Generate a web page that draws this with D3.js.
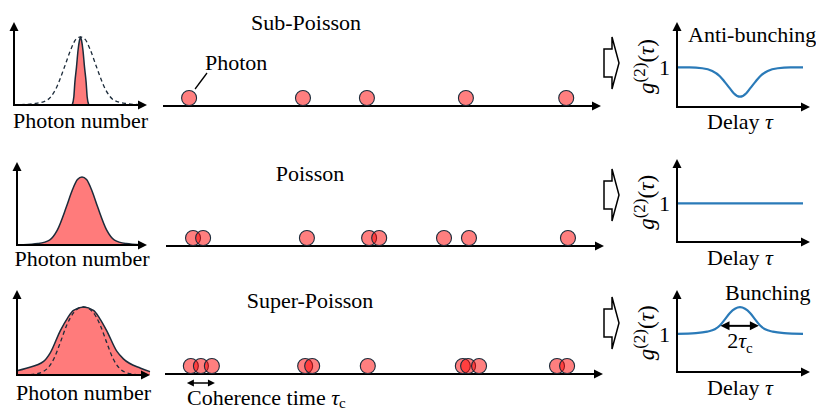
<!DOCTYPE html>
<html><head><meta charset="utf-8">
<script src="https://cdn.jsdelivr.net/npm/d3@7"></script>
</head>
<body style="margin:0">
<svg id="c" width="816" height="410"></svg>
<script>
// ---------- DATA ----------
const rowTitles = ["Sub-Poisson", "Poisson", "Super-Poisson"];
// photon-number distributions (n, probability-like height)
const poissonN = [1, 3.2, 5, 6.2, 7.6, 8.5, 9.3, 10, 10.7, 11.5, 12.4, 13.8, 15, 16.8, 19];
const poissonP = [0.004, 0.018, 0.06, 0.18, 0.46, 0.66, 0.79, 0.82, 0.79, 0.66, 0.46, 0.18, 0.06, 0.018, 0.004];
const subN = [8.75, 9.0, 9.15, 9.4, 9.63, 9.85, 10, 10.15, 10.37, 10.6, 10.85, 11.0, 11.25];
const subP = [0, 0.1, 0.27, 0.46, 0.66, 0.78, 0.82, 0.78, 0.66, 0.46, 0.27, 0.1, 0];
const superN = [0, 1.4, 4, 5, 6.5, 7.6, 8.5, 10, 11.5, 12.4, 13.5, 15, 16, 18.6, 20];
const superP = [0.05, 0.08, 0.16, 0.26, 0.52, 0.67, 0.76, 0.80, 0.76, 0.67, 0.52, 0.28, 0.19, 0.08, 0.04];
const refN = [2, 3.8, 5.6, 6.5, 7.5, 8.6, 10, 11.4, 12.5, 13.5, 14.4, 16.2, 18];
const refP = [0.004, 0.035, 0.2, 0.38, 0.59, 0.74, 0.80, 0.74, 0.59, 0.38, 0.2, 0.035, 0.004];
// photon arrival times
const subT = [5.5, 31.5, 46.1, 68.7, 91.6];
const poiT = [6.4, 8.7, 32.4, 46.6, 48.9, 63.7, 69.4, 92.0];
const supT = [5.9, 8.2, 10.7, 32.0, 33.6, 46.3, 68.0, 69.2, 71.7, 89.5, 91.8];
const coherence = [5.0, 11.4];
// g2 curves
const antiTau = [-5, -4, -3, -2.2, -1.6, -1.2, -0.8, -0.5, 0, 0.5, 0.8, 1.2, 1.6, 2.2, 3, 4, 5];
const antiG = [1, 1, 0.98, 0.91, 0.78, 0.63, 0.47, 0.35, 0.26, 0.35, 0.47, 0.63, 0.78, 0.91, 0.98, 1, 1];
const cohTau = [-5, 5];
const cohG = [1, 1];
const bunchTau = [-5, -3.5, -2.6, -2, -1.6, -1.2, -0.8, -0.4, 0, 0.4, 0.8, 1.2, 1.6, 2, 2.6, 3.5, 5];
const bunchG = [1.0, 1.02, 1.06, 1.12, 1.22, 1.38, 1.55, 1.66, 1.7, 1.66, 1.55, 1.38, 1.22, 1.12, 1.06, 1.02, 1.0];
const bunchWidth = [-1.55, 1.5];
const bunchWidthLevel = 1.21;
const g2Tick = [1];

// ---------- LAYOUT ----------
const svg = d3.select("#c");
const FS = 22, FSUB = 15;
const FONT = '"Liberation Serif"';
const red = "#ff7b7b", dark = "#1c2b3a", blue = "#2a7ab8";
const rows = [
  {hx0:14, hx1:147, hb:105, ht:22, ax0:163, ax1:601, ay:106, gb:107, gt:22, arr:63, title:[306,30], pn:128, dl:129},
  {hx0:17, hx1:147, hb:245, ht:162, ax0:166, ax1:604, ay:246, gb:242, gt:159, arr:195, title:[310,181], pn:266, dl:265},
  {hx0:17, hx1:150, hb:375, ht:290, ax0:165, ax1:603, ay:374, gb:372, gt:290, arr:323, title:[310,308], pn:400, dl:395}
];
const tScale = d3.scaleLinear().domain([0, 100]).range([165, 603]);
const tauScale = d3.scaleLinear().domain([-5, 5]).range([677, 803]);

function txt(g, size) {
  return g.append("text").style("font-family", FONT).attr("font-size", size || FS);
}
function head(g, x, y, dir, len, half) {
  len = len || 9; half = half || 4.5;
  let pts;
  if (dir === "r") pts = [[x, y], [x - len, y - half], [x - len, y + half]];
  else if (dir === "l") pts = [[x, y], [x + len, y - half], [x + len, y + half]];
  else pts = [[x, y], [x - half, y + len], [x + half, y + len]];
  g.append("path").attr("d", d3.line()(pts) + "Z").attr("fill", "#000");
}
function axes(g, x0, x1, yb, yt) {
  g.append("line").attr("x1", x0).attr("x2", x1 - 6).attr("y1", yb).attr("y2", yb).attr("stroke", "#000").attr("stroke-width", 2);
  g.append("line").attr("x1", x0).attr("x2", x0).attr("y1", yb + 1).attr("y2", yt + 6).attr("stroke", "#000").attr("stroke-width", 2);
  head(g, x1, yb, "r");
  head(g, x0, yt, "u");
}

const distFill = [[subN, subP], [poissonN, poissonP], [superN, superP]];
const distDash = [[poissonN, poissonP], null, [refN, refP]];
const photons = [subT, poiT, supT];
const g2Data = [[antiTau, antiG], [cohTau, cohG], [bunchTau, bunchG]];

rows.forEach((r, i) => {
  const g = svg.append("g");
  // --- photon number distribution
  const hx = d3.scaleLinear().domain([0, 20]).range([r.hx0, r.hx1]);
  const hy = d3.scaleLinear().domain([0, 1]).range([r.hb, r.ht]);
  const [fn, fp] = distFill[i];
  const pts = fn.map((n, k) => [n, fp[k]]);
  const area = d3.area().x(d => hx(d[0])).y0(hy(0)).y1(d => hy(d[1])).curve(d3.curveMonotoneX);
  const line = d3.line().x(d => hx(d[0])).y(d => hy(d[1])).curve(d3.curveMonotoneX);
  g.append("path").attr("d", area(pts)).attr("fill", red);
  g.append("path").attr("d", line(pts)).attr("fill", "none").attr("stroke", dark).attr("stroke-width", 1.5);
  if (distDash[i]) {
    const [dn, dp] = distDash[i];
    g.append("path").attr("d", line(dn.map((n, k) => [n, dp[k]]))).attr("fill", "none")
      .attr("stroke", dark).attr("stroke-width", 1.3).attr("stroke-dasharray", "4,3");
  }
  axes(g, r.hx0, r.hx1, r.hb, r.ht);
  txt(g).attr("x", (r.hx0 + r.hx1) / 2).attr("y", r.pn).attr("text-anchor", "middle").text("Photon number");

  // --- photon train
  g.append("line").attr("x1", r.ax0).attr("x2", r.ax1 - 6).attr("y1", r.ay).attr("y2", r.ay).attr("stroke", "#000").attr("stroke-width", 2);
  head(g, r.ax1, r.ay, "r");
  g.selectAll("circle.p").data(photons[i]).enter().append("circle")
    .attr("cx", d => tScale(d)).attr("cy", r.ay - 8).attr("r", 7.5)
    .attr("fill", "#ff0000").attr("fill-opacity", 0.5).attr("stroke", dark).attr("stroke-width", 1.1);
  txt(g).attr("x", r.title[0]).attr("y", r.title[1]).attr("text-anchor", "middle").text(rowTitles[i]);

  // --- block arrow
  const cy = r.arr, s = 14, h = 26;
  g.append("path").attr("d", d3.line()([[604, cy - s], [612, cy - s], [612, cy - h], [619, cy], [612, cy + h], [612, cy + s], [604, cy + s]]) + "Z")
    .attr("fill", "#fff").attr("stroke", "#000").attr("stroke-width", 1.5);

  // --- g2 panel
  const gy = d3.scaleLinear().domain([0, 2.15]).range([r.gb, r.gt]);
  const [tt, gg] = g2Data[i];
  g.append("path").attr("d", d3.line().x(d => tauScale(d[0])).y(d => gy(d[1])).curve(d3.curveMonotoneX)(tt.map((t, k) => [t, gg[k]])))
    .attr("fill", "none").attr("stroke", blue).attr("stroke-width", 2.2);
  axes(g, 677, 810, r.gb, r.gt);
  g.selectAll("text.tk").data(g2Tick).enter().append("text").style("font-family", FONT).attr("font-size", FS)
    .attr("x", 670).attr("y", d => gy(d) + 8).attr("text-anchor", "end").text(d => d);
  const lab = txt(g, 23).attr("transform", `translate(654,${gy(1) - 1}) rotate(-90)`).attr("text-anchor", "middle");
  lab.append("tspan").attr("font-style", "italic").text("g");
  lab.append("tspan").attr("font-size", 17).attr("dy", -9).text("(2)");
  lab.append("tspan").attr("dy", 9).text("(");
  lab.append("tspan").attr("font-style", "italic").text("τ");
  lab.append("tspan").text(")");
  const dl = txt(g).attr("x", 740).attr("y", r.dl).attr("text-anchor", "middle");
  dl.append("tspan").text("Delay ");
  dl.append("tspan").attr("font-style", "italic").text("τ");
});

// annotations
txt(svg).attr("x", 205).attr("y", 70).text("Photon");
svg.append("line").attr("x1", tScale(subT[0]) + 6).attr("y1", 89).attr("x2", 207).attr("y2", 73).attr("stroke", "#000").attr("stroke-width", 1.3);
txt(svg).attr("x", 688).attr("y", 42).text("Anti-bunching");
txt(svg).attr("x", 725).attr("y", 300).text("Bunching");

// coherence time arrow
const cyA = 383;
svg.append("line").attr("x1", tScale(coherence[0]) + 4).attr("x2", tScale(coherence[1]) - 4).attr("y1", cyA).attr("y2", cyA).attr("stroke", "#000").attr("stroke-width", 1.5);
head(svg, tScale(coherence[0]), cyA, "l", 7, 3.5);
head(svg, tScale(coherence[1]), cyA, "r", 7, 3.5);
const ct = txt(svg).attr("x", 187).attr("y", 405);
ct.append("tspan").text("Coherence time ");
ct.append("tspan").attr("font-style", "italic").text("τ");
ct.append("tspan").attr("font-size", FSUB).attr("dy", 3).text("c");

// bunching width arrow
const gy3 = d3.scaleLinear().domain([0, 2.15]).range([rows[2].gb, rows[2].gt]);
const by = gy3(bunchWidthLevel);
svg.append("line").attr("x1", tauScale(bunchWidth[0]) + 6).attr("x2", tauScale(bunchWidth[1]) - 6).attr("y1", by).attr("y2", by).attr("stroke", "#000").attr("stroke-width", 2);
head(svg, tauScale(bunchWidth[0]), by, "l", 9, 4.5);
head(svg, tauScale(bunchWidth[1]), by, "r", 9, 4.5);
const bt = txt(svg).attr("x", 740).attr("y", 348).attr("text-anchor", "middle");
bt.append("tspan").text("2");
bt.append("tspan").attr("font-style", "italic").text("τ");
bt.append("tspan").attr("font-size", FSUB).attr("dy", 5).text("c");
</script></body></html>
